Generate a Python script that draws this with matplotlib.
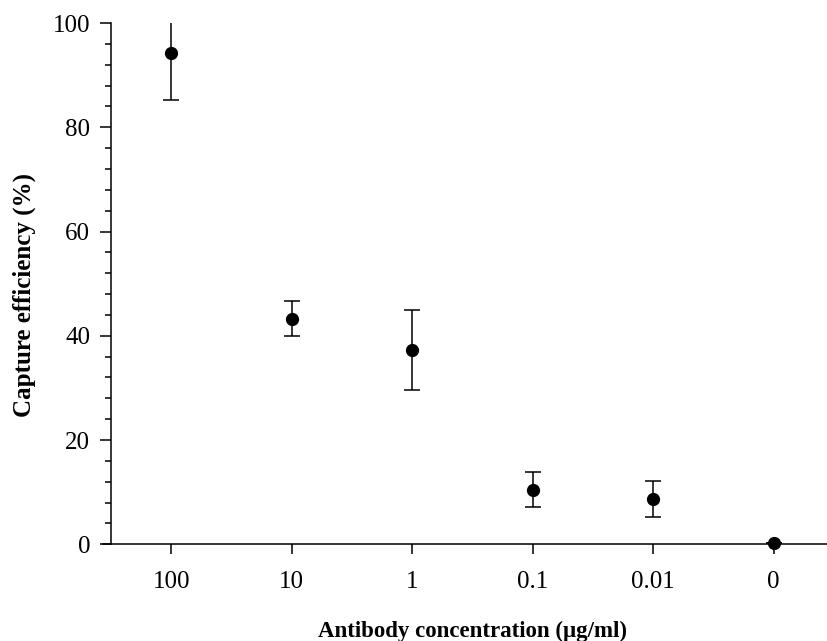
import numpy as np
import matplotlib
matplotlib.use("Agg")
import matplotlib.pyplot as plt
from matplotlib.ticker import MultipleLocator

plt.rcParams['font.family'] = ['Liberation Serif', 'DejaVu Serif']

# data
concentrations = ['100', '10', '1', '0.1', '0.01', '0']
efficiency = [94.2, 43.3, 37.3, 10.5, 8.7, 0.2]
errors = [8.9, 3.3, 7.7, 3.4, 3.4, 0.0]

x = np.arange(len(concentrations))

fig = plt.figure(figsize=(8.27, 6.41), dpi=100)
ax = fig.add_axes([103 / 827, 1 - 544.3 / 641, 724 / 827, 521.3 / 641])

# error bars clipped at the top of the axes, markers drawn over the axis line
ax.errorbar(x, efficiency, yerr=errors, fmt='none', ecolor='black',
            elinewidth=1.1, capsize=5.5, capthick=1.1, clip_on=True)
ax.plot(x, efficiency, 'o', color='black', markersize=8.5, clip_on=False, zorder=5)

ax.set_xlim(-0.566, 5.443)
ax.set_ylim(0, 100)

ax.spines['top'].set_visible(False)
ax.spines['right'].set_visible(False)
ax.spines['left'].set_position(('data', -0.5))
for s in ['left', 'bottom']:
    ax.spines[s].set_linewidth(1.1)

ax.set_xticks(x)
ax.set_xticklabels(concentrations)
ax.yaxis.set_major_locator(MultipleLocator(20))
ax.yaxis.set_minor_locator(MultipleLocator(4))

ax.tick_params(axis='x', direction='out', length=7, width=1.1, pad=12, labelsize=18)
ax.tick_params(axis='y', which='major', direction='out', length=8, width=1.1, pad=7, labelsize=18)
ax.tick_params(axis='y', which='minor', direction='out', length=4.5, width=1.1)

ax.set_xlabel('Antibody concentration (μg/ml)', fontsize=16.5, fontweight='bold')
ax.set_ylabel('Capture efficiency (%)', fontsize=18, fontweight='bold')
ax.xaxis.set_label_coords((472 - 103) / 724, (544.3 - 621) / 521.3)
ax.yaxis.set_label_coords((36 - 103) / 724, (544.3 - 295) / 521.3)

fig.savefig('out.png', dpi=100)
